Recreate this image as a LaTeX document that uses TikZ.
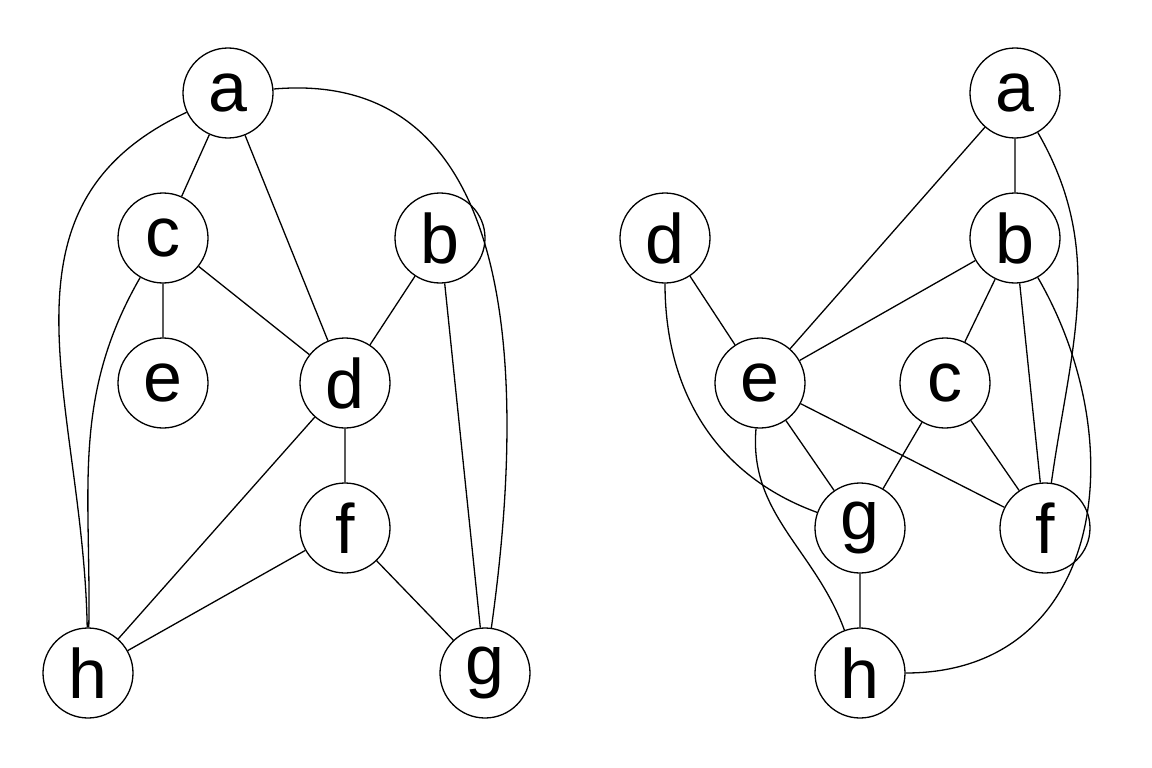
\documentclass[tikz,border=0pt]{standalone}
\usepackage{fontspec}
\setmainfont{Liberation Sans}
\begin{document}
\begin{tikzpicture}[x=1pt,y=-1pt,
  vert/.style={circle,draw,line width=1.3pt,minimum size=90pt,inner sep=0pt,font=\fontsize{70}{70}\selectfont},
  every path/.style={line width=1.3pt}]
\useasboundingbox (0,0) rectangle (1152,768);
\node[vert] (a) at (228,93) {a};
\node[vert] (c) at (163,238) {c};
\node[vert] (b) at (440,238) {b};
\node[vert] (e) at (163,383) {e};
\node[vert] (d) at (345,383) {d};
\node[vert] (f) at (345,528) {f};
\node[vert] (h) at (88,673) {h};
\node[vert] (g) at (485,673) {g};
\draw (a)--(c) (a)--(d) (c)--(e) (c)--(d) (b)--(d) (b)--(g) (d)--(f) (d)--(h) (f)--(h) (f)--(g);
\draw (a) to[out=205,in=91,looseness=1.1] (h);
\draw (a) to[out=5,in=82,looseness=1.1] (g);
\draw (c) to[out=240,in=89] (h);
\node[vert] (A) at (1015,93) {a};
\node[vert] (B) at (1015,238) {b};
\node[vert] (D) at (665,238) {d};
\node[vert] (E) at (760,383) {e};
\node[vert] (C) at (945,383) {c};
\node[vert] (G) at (860,528) {g};
\node[vert] (F) at (1045,528) {f};
\node[vert] (H) at (860,673) {h};
\draw (A)--(B) (A)--(E) (D)--(E) (B)--(E) (B)--(C) (B)--(F) (E)--(F) (E)--(G) (C)--(G) (C)--(F) (G)--(H);
\draw (A) to[out=-60,in=82] (F);
\draw (D) to[out=-90,in=160] (G);
\draw (B) to[out=-60,in=0,looseness=1.2] (H);
\draw (E) to[out=-95,in=110] (H);
\end{tikzpicture}
\end{document}
